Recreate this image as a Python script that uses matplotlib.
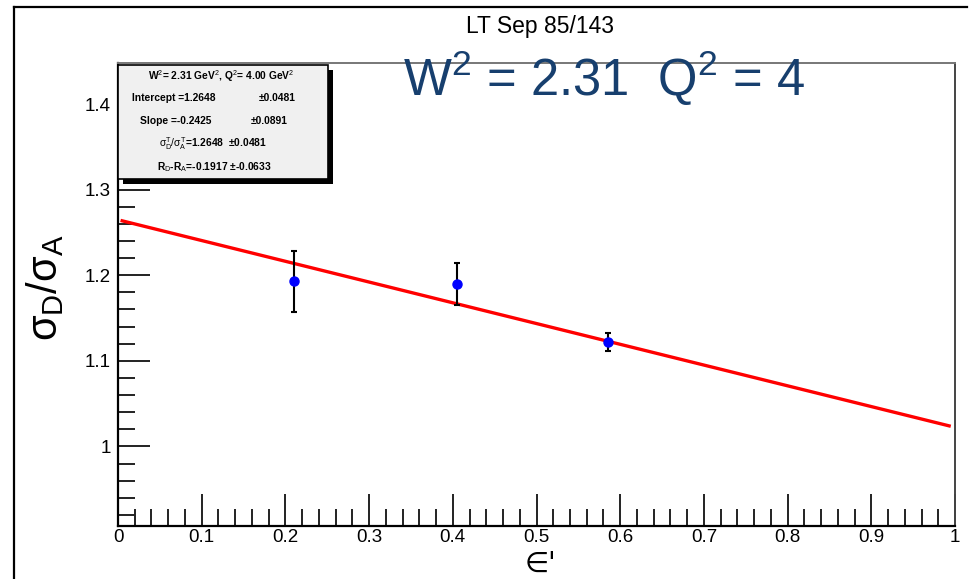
import numpy as np
import matplotlib.pyplot as plt
from matplotlib.patches import Rectangle
from matplotlib.lines import Line2D
from matplotlib.ticker import MultipleLocator

plt.rcParams['font.family'] = ['Liberation Sans', 'DejaVu Sans']
plt.rcParams['mathtext.fontset'] = 'custom'
plt.rcParams['mathtext.rm'] = 'Liberation Sans'
plt.rcParams['mathtext.it'] = 'Liberation Sans'
plt.rcParams['mathtext.bf'] = 'Liberation Sans:bold'

# measured ratio points
eps = [0.21, 0.405, 0.585]
ratio = [1.193, 1.1895, 1.1225]
ratio_err = [0.0355, 0.0245, 0.0105]

# linear fit result
intercept, intercept_err = 1.2648, 0.0481
slope, slope_err = -0.2425, 0.0891
rd_ra, rd_ra_err = -0.1917, -0.0633
fit_range = [0.005, 0.993]

W = 972
H = 579
fig = plt.figure(figsize=(W / 100, H / 100), dpi=100)


def fx(px):
    return px / W


def fy(py):
    return 1 - py / H


ax = fig.add_axes([fx(118), fy(526), fx(955) - fx(118), fy(63) - fy(526)])
ax.set_xlim(0, 1)
ax.set_ylim(0.907, 1.448)

xs = np.array(fit_range)
ax.plot(xs, intercept + slope * xs, color='red', lw=2.4, zorder=2)
ax.errorbar(eps, ratio, yerr=ratio_err, fmt='o', color='blue', ms=6.5,
            ecolor='black', elinewidth=1.5, capsize=2.5, capthick=1.5, zorder=3)

ax.xaxis.set_major_locator(MultipleLocator(0.1))
ax.xaxis.set_minor_locator(MultipleLocator(0.02))
ax.yaxis.set_major_locator(MultipleLocator(0.1))
ax.yaxis.set_minor_locator(MultipleLocator(0.02))
ax.xaxis.set_major_formatter(lambda v, p: f'{v:.1f}'.rstrip('0').rstrip('.') if v not in (0, 1) else f'{int(round(v))}')
ax.yaxis.set_major_formatter(lambda v, p: f'{v:.1f}' if abs(v - 1) > 1e-6 else '1')
ax.tick_params(which='both', direction='in', top=False, right=False, labelsize=13.5, width=1.4, color='#222222')
ax.tick_params(which='major', length=23, pad=5)
ax.tick_params(axis='x', which='major', pad=2)
ax.tick_params(which='minor', length=12)
for s in ['left', 'bottom']:
    ax.spines[s].set_linewidth(1.6)
ax.spines['top'].set_color('#777777')
ax.spines['right'].set_color('#444444')
ax.spines['top'].set_linewidth(1.4)
ax.spines['right'].set_linewidth(1.4)

# outer canvas frame
fig.add_artist(Line2D([fx(14), fx(967)], [fy(7), fy(7)], color='black', lw=1.6))
fig.add_artist(Line2D([fx(14), fx(14)], [fy(7), fy(579)], color='black', lw=1.6))

fig.text(fx(540), fy(26), 'LT Sep 85/143', ha='center', va='center', fontsize=16.5)
fig.text(fx(604), fy(78), r'W$^{2}$ = 2.31  Q$^{2}$ = 4', ha='center', va='center',
         fontsize=36.5, color='#173f6e')

fig.text(fx(45), fy(288), r'$\sigma_{D}/\sigma_{A}$', rotation=90, ha='center', va='center', fontsize=30)
fig.text(fx(540), fy(578), '\u2208\'', ha='center', va='bottom', fontsize=20,
         family=['DejaVu Sans'])

# statistics box with shadow
fig.add_artist(Rectangle((fx(123), fy(184)), fx(328) - fx(118), fy(65) - fy(179),
                         transform=fig.transFigure, facecolor='black', edgecolor='none', zorder=5))
fig.add_artist(Rectangle((fx(118), fy(179)), fx(328) - fx(118), fy(65) - fy(179),
                         transform=fig.transFigure, facecolor='#f0f0f0', edgecolor='black', lw=1.2, zorder=6))
bx = dict(fontsize=7.4, fontweight='bold', va='center', zorder=7)
fig.text(fx(221), fy(76), r'W$^{2}$= 2.31 GeV$^{2}$, Q$^{2}$= 4.00 GeV$^{2}$', ha='center', **bx)
fig.text(fx(132), fy(98), f'Intercept ={intercept:.4f}', ha='left', **bx)
fig.text(fx(259), fy(98), f'\u00b1{intercept_err:.4f}', ha='left', **bx)
fig.text(fx(140), fy(121), f'Slope ={slope:.4f}', ha='left', **bx)
fig.text(fx(251), fy(121), f'\u00b1{slope_err:.4f}', ha='left', **bx)
fig.text(fx(213), fy(144), r'$\sigma^{T}_{D}/\sigma^{T}_{A}$' + f'={intercept:.4f}  \u00b1{intercept_err:.4f}', ha='center', **bx)
fig.text(fx(214), fy(167), r'R$_{D}$-R$_{A}$' + f'={rd_ra:.4f} \u00b1{rd_ra_err:.4f}', ha='center', **bx)

fig.savefig('out.png', dpi=100)
